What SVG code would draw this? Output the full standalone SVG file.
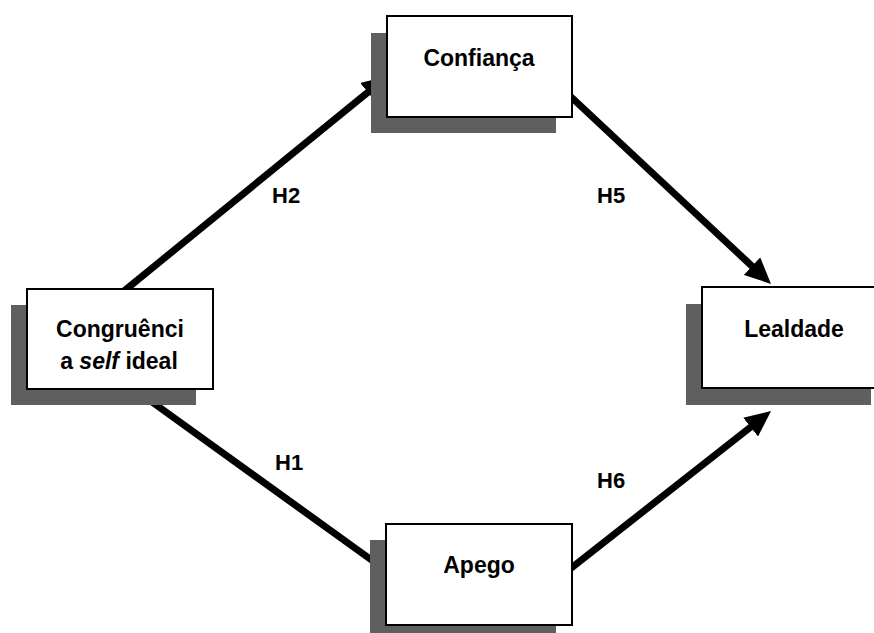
<svg xmlns="http://www.w3.org/2000/svg" width="874" height="633" viewBox="0 0 874 633">
<defs>
<style>
.shadow{fill:#5f5f5f;}
.box{fill:#fff;stroke:#000;stroke-width:2;}
.lbl{font-family:"Liberation Sans",Arial,sans-serif;font-weight:bold;font-size:23px;fill:#000;text-anchor:middle;}
.hyp{font-family:"Liberation Sans",Arial,sans-serif;font-weight:bold;font-size:22px;fill:#000;}
.conn{stroke:#000;stroke-width:7;fill:none;marker-end:url(#arrow);}
</style>
<marker id="arrow" markerUnits="userSpaceOnUse" markerWidth="26" markerHeight="24" viewBox="0 0 26 24" refX="16" refY="12" orient="auto">
<path d="M0,0 L26,12 L0,24 z" fill="#000"/>
</marker>
</defs>
<rect width="874" height="633" fill="#fff"/>
<g id="connectors">
<line class="conn" x1="124" y1="291" x2="380.2" y2="82.2"/>
<line class="conn" x1="570" y1="96" x2="763.7" y2="277.1"/>
<line class="conn" x1="134" y1="389" x2="391" y2="574"/>
<line class="conn" x1="570" y1="569" x2="763.2" y2="417.2"/>
<text class="hyp" x="272" y="203">H2</text>
<text class="hyp" x="597" y="203">H5</text>
<text class="hyp" x="275" y="470">H1</text>
<text class="hyp" x="597" y="488">H6</text>
</g>
<g id="confianca">
<rect class="shadow" x="371" y="33" width="185" height="100"/>
<rect class="box" x="387" y="16" width="185" height="101"/>
<text class="lbl" x="479" y="66">Confiança</text>
</g>
<g id="congruencia">
<rect class="shadow" x="11" y="305" width="185" height="100"/>
<rect class="box" x="27" y="289" width="186" height="100"/>
<text class="lbl" x="120" y="337">Congruênci</text>
<text class="lbl" x="119" y="369">a <tspan font-style="italic">self</tspan> ideal</text>
</g>
<g id="lealdade">
<rect class="shadow" x="686" y="304" width="185" height="101"/>
<rect class="box" x="702" y="287" width="190" height="101"/>
<text class="lbl" x="794" y="337">Lealdade</text>
</g>
<g id="apego">
<rect class="shadow" x="370" y="540" width="186" height="100"/>
<rect class="box" x="386" y="524" width="186" height="101"/>
<text class="lbl" x="479" y="573">Apego</text>
</g>
</svg>
